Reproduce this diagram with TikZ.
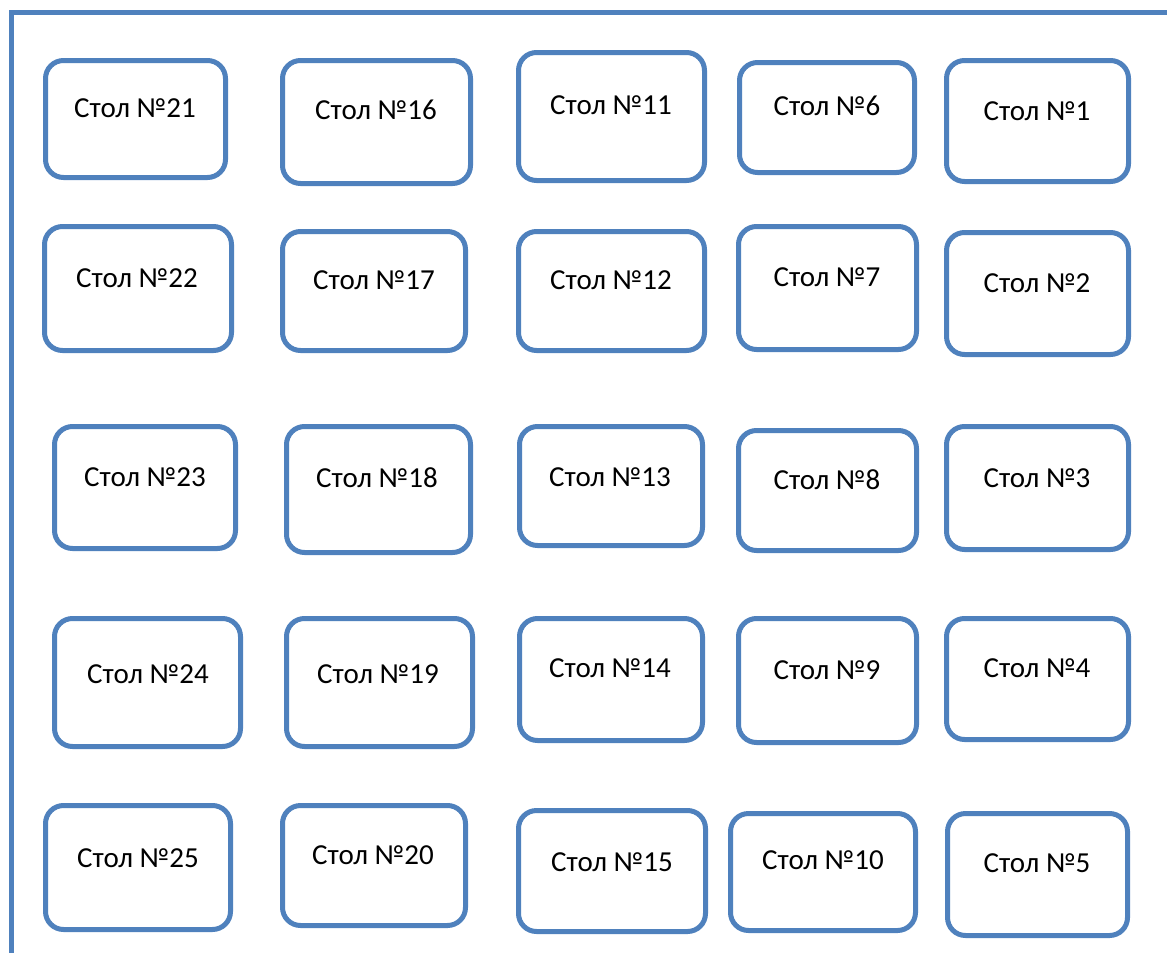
\documentclass[tikz,border=0pt]{standalone}
\usepackage{fontspec}
\setmainfont{Carlito}
\definecolor{tblue}{HTML}{4F81BD}
\tikzset{
  tblbox/.style={draw=tblue, line width=2.5pt, rounded corners=9pt, inner sep=0pt, outer sep=0pt, fill=white},
  tbltext/.style={inner sep=0pt, font=\fontsize{14.5}{17}\selectfont, text=black},
  wall/.style={draw=tblue, line width=2.5pt, miter limit=10}
}
\newcommand\stol[8]{%
  \pgfmathsetmacro\stolw{(#4-#2-5)*0.5}%
  \pgfmathsetmacro\stolh{(#5-#3-5)*0.5}%
  \node[tblbox, minimum width=\stolw pt, minimum height=\stolh pt] (#1) at ({(#2+#4)/2},{(#3+#5)/2}) {};
  \node[tbltext] (#1txt) at (#6,#7) {#8};
}
\begin{document}
\begin{tikzpicture}[x=0.5pt, y=-0.5pt]
\useasboundingbox (0,0) rectangle (1167,953);
\coordinate (wallTR) at (1167,12.5);
\coordinate (wallC) at (11.5,12.5);
\coordinate (wallBL) at (11.5,953);
\draw[wall] (wallTR) -- (wallC) -- (wallBL);
% row 1
\stol{t21}{43}{58}{228}{180}{135}{108}{Стол №21}
\stol{t16}{280}{58}{473}{186}{376}{110}{Стол №16}
\stol{t11}{516}{50}{707}{183}{611}{105}{Стол №11}
\stol{t6}{737}{60}{917}{175}{827}{106}{Стол №6}
\stol{t1}{944}{58}{1131}{184}{1037}{111}{Стол №1}
% row 2
\stol{t22}{42}{224}{234}{353}{137}{278}{Стол №22}
\stol{t17}{280}{229}{468}{353}{374}{280}{Стол №17}
\stol{t12}{516}{229}{707}{353}{611}{280}{Стол №12}
\stol{t7}{736}{224}{919}{352}{827}{277}{Стол №7}
\stol{t2}{944}{230}{1131}{357}{1037}{283}{Стол №2}
% row 3
\stol{t23}{52}{424}{238}{551}{145}{477}{Стол №23}
\stol{t18}{284}{424}{473}{555}{377}{478}{Стол №18}
\stol{t13}{517}{424}{705}{548}{610}{477}{Стол №13}
\stol{t8}{736}{428}{919}{553}{827}{480}{Стол №8}
\stol{t3}{944}{424}{1131}{552}{1037}{478}{Стол №3}
% row 4
\stol{t24}{52}{616}{243}{749}{148}{674}{Стол №24}
\stol{t19}{284}{616}{475}{749}{378}{674}{Стол №19}
\stol{t14}{517}{616}{705}{743}{610}{668}{Стол №14}
\stol{t9}{736}{616}{919}{745}{827}{670}{Стол №9}
\stol{t4}{944}{616}{1131}{742}{1037}{668}{Стол №4}
% row 5
\stol{t25}{43}{803}{233}{932}{138}{858}{Стол №25}
\stol{t20}{280}{803}{468}{928}{373}{855}{Стол №20}
\stol{t15}{516}{808}{708}{934}{612}{862}{Стол №15}
\stol{t10}{728}{811}{918}{933}{823}{860}{Стол №10}
\stol{t5}{945}{811}{1130}{938}{1037}{863}{Стол №5}
\end{tikzpicture}
\end{document}
